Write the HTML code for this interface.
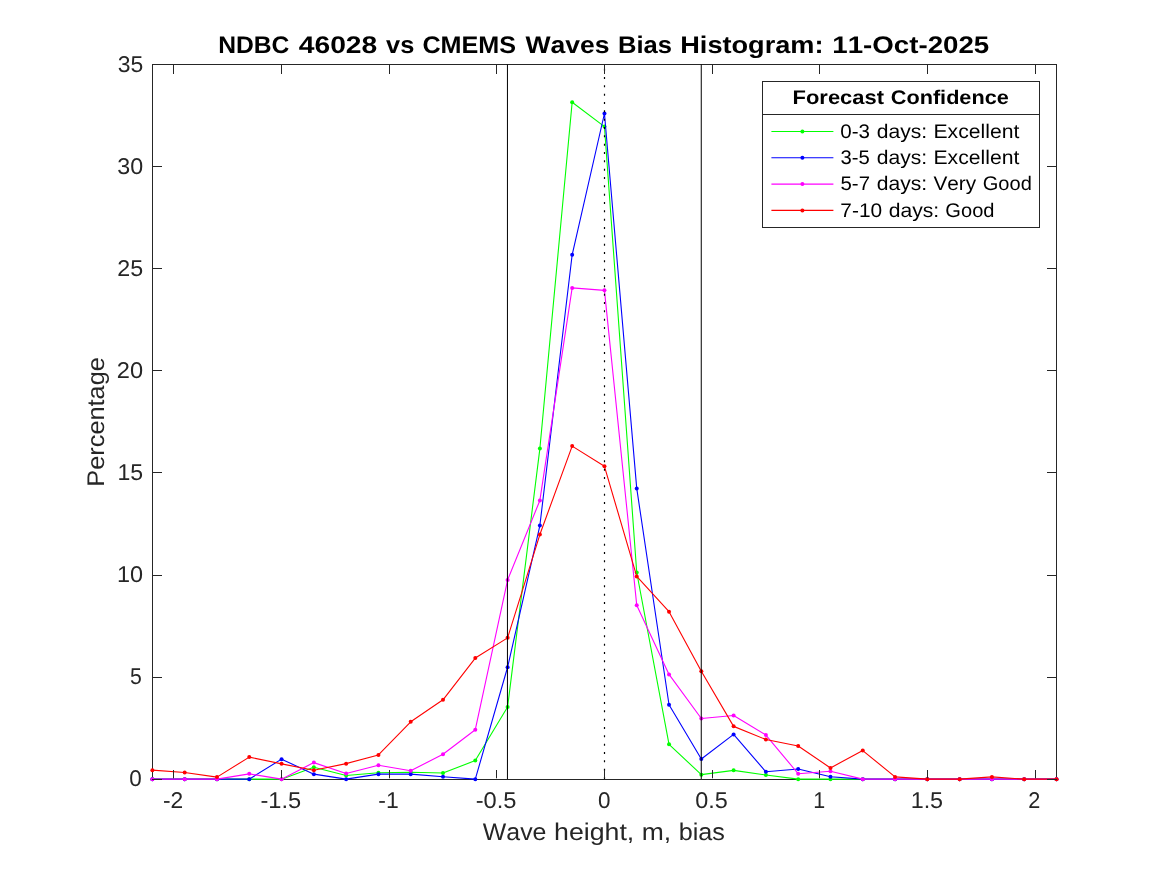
<!DOCTYPE html><html><head><meta charset="utf-8"><title>NDBC 46028 vs CMEMS Waves Bias Histogram</title><style>html,body{margin:0;padding:0;background:#fff;width:1167px;height:875px;overflow:hidden}svg{display:block;will-change:transform}text{font-family:"Liberation Sans",sans-serif;font-kerning:none;text-rendering:geometricPrecision}</style></head><body>
<svg width="1167" height="875" viewBox="0 0 1167 875">
<rect width="1167" height="875" fill="#fff"/>
<path d="M152.5 779.5H1056.5V64.5H152.5Z" fill="none" stroke="#262626" stroke-width="1"/>
<polyline points="152.40,779.15 184.69,779.15 216.98,779.15 249.27,779.15 281.56,779.15 313.85,767.31 346.14,775.47 378.43,772.82 410.71,772.21 443.00,773.02 475.29,760.57 507.58,707.07 539.87,448.57 572.16,102.27 604.45,126.57 636.74,572.51 669.03,744.34 701.32,774.66 733.61,770.37 765.90,775.07 798.19,779.15 830.47,779.15 862.76,779.15 895.05,779.15 927.34,779.15 959.63,779.15 991.92,779.15 1024.21,779.15 1056.50,779.15" fill="none" stroke="#00ff00" stroke-width="1.1" stroke-linejoin="round"/>
<g fill="#00ff00"><circle cx="152.40" cy="779.15" r="2.0"/><circle cx="184.69" cy="779.15" r="2.0"/><circle cx="216.98" cy="779.15" r="2.0"/><circle cx="249.27" cy="779.15" r="2.0"/><circle cx="281.56" cy="779.15" r="2.0"/><circle cx="313.85" cy="767.31" r="2.0"/><circle cx="346.14" cy="775.47" r="2.0"/><circle cx="378.43" cy="772.82" r="2.0"/><circle cx="410.71" cy="772.21" r="2.0"/><circle cx="443.00" cy="773.02" r="2.0"/><circle cx="475.29" cy="760.57" r="2.0"/><circle cx="507.58" cy="707.07" r="2.0"/><circle cx="539.87" cy="448.57" r="2.0"/><circle cx="572.16" cy="102.27" r="2.0"/><circle cx="604.45" cy="126.57" r="2.0"/><circle cx="636.74" cy="572.51" r="2.0"/><circle cx="669.03" cy="744.34" r="2.0"/><circle cx="701.32" cy="774.66" r="2.0"/><circle cx="733.61" cy="770.37" r="2.0"/><circle cx="765.90" cy="775.07" r="2.0"/><circle cx="798.19" cy="779.15" r="2.0"/><circle cx="830.47" cy="779.15" r="2.0"/><circle cx="862.76" cy="779.15" r="2.0"/><circle cx="895.05" cy="779.15" r="2.0"/><circle cx="927.34" cy="779.15" r="2.0"/><circle cx="959.63" cy="779.15" r="2.0"/><circle cx="991.92" cy="779.15" r="2.0"/><circle cx="1024.21" cy="779.15" r="2.0"/><circle cx="1056.50" cy="779.15" r="2.0"/></g>
<polyline points="152.40,779.15 184.69,779.15 216.98,779.15 249.27,779.15 281.56,759.14 313.85,774.15 346.14,779.15 378.43,774.15 410.71,774.15 443.00,776.70 475.29,779.15 507.58,667.26 539.87,525.55 572.16,254.80 604.45,113.50 636.74,488.39 669.03,704.72 701.32,758.94 733.61,734.43 765.90,771.80 798.19,768.94 830.47,776.70 862.76,779.15 895.05,779.15 927.34,779.15 959.63,779.15 991.92,779.15 1024.21,779.15 1056.50,779.15" fill="none" stroke="#0000ff" stroke-width="1.1" stroke-linejoin="round"/>
<g fill="#0000ff"><circle cx="152.40" cy="779.15" r="2.0"/><circle cx="184.69" cy="779.15" r="2.0"/><circle cx="216.98" cy="779.15" r="2.0"/><circle cx="249.27" cy="779.15" r="2.0"/><circle cx="281.56" cy="759.14" r="2.0"/><circle cx="313.85" cy="774.15" r="2.0"/><circle cx="346.14" cy="779.15" r="2.0"/><circle cx="378.43" cy="774.15" r="2.0"/><circle cx="410.71" cy="774.15" r="2.0"/><circle cx="443.00" cy="776.70" r="2.0"/><circle cx="475.29" cy="779.15" r="2.0"/><circle cx="507.58" cy="667.26" r="2.0"/><circle cx="539.87" cy="525.55" r="2.0"/><circle cx="572.16" cy="254.80" r="2.0"/><circle cx="604.45" cy="113.50" r="2.0"/><circle cx="636.74" cy="488.39" r="2.0"/><circle cx="669.03" cy="704.72" r="2.0"/><circle cx="701.32" cy="758.94" r="2.0"/><circle cx="733.61" cy="734.43" r="2.0"/><circle cx="765.90" cy="771.80" r="2.0"/><circle cx="798.19" cy="768.94" r="2.0"/><circle cx="830.47" cy="776.70" r="2.0"/><circle cx="862.76" cy="779.15" r="2.0"/><circle cx="895.05" cy="779.15" r="2.0"/><circle cx="927.34" cy="779.15" r="2.0"/><circle cx="959.63" cy="779.15" r="2.0"/><circle cx="991.92" cy="779.15" r="2.0"/><circle cx="1024.21" cy="779.15" r="2.0"/><circle cx="1056.50" cy="779.15" r="2.0"/></g>
<polyline points="152.40,779.15 184.69,779.15 216.98,779.15 249.27,773.84 281.56,779.15 313.85,762.61 346.14,773.43 378.43,765.27 410.71,770.78 443.00,754.24 475.29,729.74 507.58,580.07 539.87,500.44 572.16,287.88 604.45,290.33 636.74,605.18 669.03,674.40 701.32,718.51 733.61,715.55 765.90,735.05 798.19,773.74 830.47,771.19 862.76,779.15 895.05,779.15 927.34,779.15 959.63,779.15 991.92,779.15 1024.21,779.15 1056.50,779.15" fill="none" stroke="#ff00ff" stroke-width="1.1" stroke-linejoin="round"/>
<g fill="#ff00ff"><circle cx="152.40" cy="779.15" r="2.0"/><circle cx="184.69" cy="779.15" r="2.0"/><circle cx="216.98" cy="779.15" r="2.0"/><circle cx="249.27" cy="773.84" r="2.0"/><circle cx="281.56" cy="779.15" r="2.0"/><circle cx="313.85" cy="762.61" r="2.0"/><circle cx="346.14" cy="773.43" r="2.0"/><circle cx="378.43" cy="765.27" r="2.0"/><circle cx="410.71" cy="770.78" r="2.0"/><circle cx="443.00" cy="754.24" r="2.0"/><circle cx="475.29" cy="729.74" r="2.0"/><circle cx="507.58" cy="580.07" r="2.0"/><circle cx="539.87" cy="500.44" r="2.0"/><circle cx="572.16" cy="287.88" r="2.0"/><circle cx="604.45" cy="290.33" r="2.0"/><circle cx="636.74" cy="605.18" r="2.0"/><circle cx="669.03" cy="674.40" r="2.0"/><circle cx="701.32" cy="718.51" r="2.0"/><circle cx="733.61" cy="715.55" r="2.0"/><circle cx="765.90" cy="735.05" r="2.0"/><circle cx="798.19" cy="773.74" r="2.0"/><circle cx="830.47" cy="771.19" r="2.0"/><circle cx="862.76" cy="779.15" r="2.0"/><circle cx="895.05" cy="779.15" r="2.0"/><circle cx="927.34" cy="779.15" r="2.0"/><circle cx="959.63" cy="779.15" r="2.0"/><circle cx="991.92" cy="779.15" r="2.0"/><circle cx="1024.21" cy="779.15" r="2.0"/><circle cx="1056.50" cy="779.15" r="2.0"/></g>
<polyline points="152.40,770.17 184.69,772.51 216.98,777.11 249.27,757.10 281.56,763.84 313.85,770.17 346.14,763.63 378.43,754.95 410.71,721.77 443.00,699.82 475.29,658.07 507.58,637.85 539.87,534.54 572.16,446.12 604.45,466.34 636.74,576.39 669.03,611.72 701.32,671.34 733.61,726.37 765.90,739.54 798.19,746.07 830.47,767.92 862.76,750.56 895.05,776.90 927.34,779.15 959.63,779.15 991.92,776.90 1024.21,779.15 1056.50,779.15" fill="none" stroke="#ff0000" stroke-width="1.1" stroke-linejoin="round"/>
<g fill="#ff0000"><circle cx="152.40" cy="770.17" r="2.0"/><circle cx="184.69" cy="772.51" r="2.0"/><circle cx="216.98" cy="777.11" r="2.0"/><circle cx="249.27" cy="757.10" r="2.0"/><circle cx="281.56" cy="763.84" r="2.0"/><circle cx="313.85" cy="770.17" r="2.0"/><circle cx="346.14" cy="763.63" r="2.0"/><circle cx="378.43" cy="754.95" r="2.0"/><circle cx="410.71" cy="721.77" r="2.0"/><circle cx="443.00" cy="699.82" r="2.0"/><circle cx="475.29" cy="658.07" r="2.0"/><circle cx="507.58" cy="637.85" r="2.0"/><circle cx="539.87" cy="534.54" r="2.0"/><circle cx="572.16" cy="446.12" r="2.0"/><circle cx="604.45" cy="466.34" r="2.0"/><circle cx="636.74" cy="576.39" r="2.0"/><circle cx="669.03" cy="611.72" r="2.0"/><circle cx="701.32" cy="671.34" r="2.0"/><circle cx="733.61" cy="726.37" r="2.0"/><circle cx="765.90" cy="739.54" r="2.0"/><circle cx="798.19" cy="746.07" r="2.0"/><circle cx="830.47" cy="767.92" r="2.0"/><circle cx="862.76" cy="750.56" r="2.0"/><circle cx="895.05" cy="776.90" r="2.0"/><circle cx="927.34" cy="779.15" r="2.0"/><circle cx="959.63" cy="779.15" r="2.0"/><circle cx="991.92" cy="776.90" r="2.0"/><circle cx="1024.21" cy="779.15" r="2.0"/><circle cx="1056.50" cy="779.15" r="2.0"/></g>
<path d="M507.45 64.5V779M701.25 64.5V779" stroke="#000" stroke-width="1" fill="none"/>
<line x1="604.5" y1="64.5" x2="604.5" y2="779" stroke="#000" stroke-width="1.2" stroke-dasharray="2 6.333" stroke-dashoffset="4.163"/>
<path d="M173.5 64V74M173.5 770V778.3M281.5 64V74M281.5 770V778.3M389.5 64V74M389.5 770V778.3M496.5 64V74M496.5 770V778.3M604.5 64V74M604.5 770V778.3M712.5 64V74M712.5 770V778.3M819.5 64V74M819.5 770V778.3M927.5 64V74M927.5 770V778.3M1035.5 64V74M1035.5 770V778.3M152 779.5H162M1047 779.5H1057M152 677.5H162M1047 677.5H1057M152 575.5H162M1047 575.5H1057M152 472.5H162M1047 472.5H1057M152 370.5H162M1047 370.5H1057M152 268.5H162M1047 268.5H1057M152 166.5H162M1047 166.5H1057M152 64.5H162M1047 64.5H1057" fill="none" stroke="#262626" stroke-width="1"/>
<text id="t_yt0" x="129.17" y="786.00" font-size="22.78" fill="#262626" textLength="12.50" lengthAdjust="spacingAndGlyphs">0</text>
<text id="t_yt5" x="129.89" y="684.00" font-size="22.78" fill="#262626" textLength="11.80" lengthAdjust="spacingAndGlyphs">5</text>
<text id="t_yt10" x="117.03" y="582.00" font-size="22.78" fill="#262626" textLength="26.08" lengthAdjust="spacingAndGlyphs">10</text>
<text id="t_yt15" x="117.51" y="480.00" font-size="22.78" fill="#262626" textLength="25.66" lengthAdjust="spacingAndGlyphs">15</text>
<text id="t_yt20" x="116.85" y="378.00" font-size="22.78" fill="#262626" textLength="26.27" lengthAdjust="spacingAndGlyphs">20</text>
<text id="t_yt25" x="117.32" y="276.00" font-size="22.78" fill="#262626" textLength="25.86" lengthAdjust="spacingAndGlyphs">25</text>
<text id="t_yt30" x="117.21" y="174.00" font-size="22.78" fill="#262626" textLength="25.90" lengthAdjust="spacingAndGlyphs">30</text>
<text id="t_yt35" x="117.67" y="72.00" font-size="22.78" fill="#262626" textLength="25.49" lengthAdjust="spacingAndGlyphs">35</text>
<text id="t_xt-2" x="163.02" y="808.00" font-size="22.78" fill="#262626" textLength="20.25" lengthAdjust="spacingAndGlyphs">-2</text>
<text id="t_xt-1.5" x="260.44" y="808.00" font-size="22.78" fill="#262626" textLength="40.76" lengthAdjust="spacingAndGlyphs">-1.5</text>
<text id="t_xt-1" x="378.28" y="808.00" font-size="22.78" fill="#262626" textLength="20.40" lengthAdjust="spacingAndGlyphs">-1</text>
<text id="t_xt-0.5" x="475.70" y="808.00" font-size="22.78" fill="#262626" textLength="40.76" lengthAdjust="spacingAndGlyphs">-0.5</text>
<text id="t_xt0" x="597.89" y="808.00" font-size="22.78" fill="#262626" textLength="12.50" lengthAdjust="spacingAndGlyphs">0</text>
<text id="t_xt0.5" x="695.31" y="808.00" font-size="22.78" fill="#262626" textLength="32.55" lengthAdjust="spacingAndGlyphs">0.5</text>
<text id="t_xt1" x="813.33" y="808.00" font-size="22.78" fill="#262626" textLength="11.94" lengthAdjust="spacingAndGlyphs">1</text>
<text id="t_xt1.5" x="910.65" y="808.00" font-size="22.78" fill="#262626" textLength="32.47" lengthAdjust="spacingAndGlyphs">1.5</text>
<text id="t_xt2" x="1028.36" y="808.00" font-size="22.78" fill="#262626" textLength="12.05" lengthAdjust="spacingAndGlyphs">2</text>
<text y="840.00" font-size="24.05" fill="#262626"><tspan x="482.89" textLength="63.55" lengthAdjust="spacingAndGlyphs">Wave</tspan> <tspan x="554.06" textLength="80.21" lengthAdjust="spacingAndGlyphs">height,</tspan> <tspan x="641.71" textLength="29.41" lengthAdjust="spacingAndGlyphs">m,</tspan> <tspan x="678.71" textLength="46.20" lengthAdjust="spacingAndGlyphs">bias</tspan></text>
<text transform="rotate(-90)" y="103.70" font-size="24.05" fill="#262626"><tspan x="-486.68" textLength="129.49" lengthAdjust="spacingAndGlyphs">Percentage</tspan></text>
<text y="53.00" font-size="24.05" font-weight="bold" fill="#000"><tspan x="218.15" textLength="71.20" lengthAdjust="spacingAndGlyphs">NDBC</tspan> <tspan x="298.72" textLength="78.53" lengthAdjust="spacingAndGlyphs">46028</tspan> <tspan x="386.02" textLength="28.27" lengthAdjust="spacingAndGlyphs">vs</tspan> <tspan x="422.42" textLength="93.73" lengthAdjust="spacingAndGlyphs">CMEMS</tspan> <tspan x="525.48" textLength="84.16" lengthAdjust="spacingAndGlyphs">Waves</tspan> <tspan x="618.01" textLength="53.97" lengthAdjust="spacingAndGlyphs">Bias</tspan> <tspan x="680.27" textLength="143.27" lengthAdjust="spacingAndGlyphs">Histogram:</tspan> <tspan x="832.30" textLength="156.96" lengthAdjust="spacingAndGlyphs">11-Oct-2025</tspan></text>
<rect x="762.5" y="81.5" width="277" height="146" fill="#fff" stroke="#262626" stroke-width="1"/>
<line x1="762.5" y1="114.5" x2="1039.5" y2="114.5" stroke="#262626" stroke-width="1"/>
<text y="104.00" font-size="19.76" font-weight="bold" fill="#000"><tspan x="792.59" textLength="91.40" lengthAdjust="spacingAndGlyphs">Forecast</tspan> <tspan x="890.76" textLength="118.04" lengthAdjust="spacingAndGlyphs">Confidence</tspan></text>
<line x1="771.4" y1="131.50" x2="833.4" y2="131.50" stroke="#00ff00" stroke-width="1.1"/>
<circle cx="802.4" cy="131.50" r="2.0" fill="#00ff00"/>
<text y="138.00" font-size="19.76" fill="#000"><tspan x="840.34" textLength="29.70" lengthAdjust="spacingAndGlyphs">0-3</tspan> <tspan x="876.77" textLength="50.34" lengthAdjust="spacingAndGlyphs">days:</tspan> <tspan x="933.48" textLength="85.89" lengthAdjust="spacingAndGlyphs">Excellent</tspan></text>
<line x1="771.4" y1="157.80" x2="833.4" y2="157.80" stroke="#0000ff" stroke-width="1.1"/>
<circle cx="802.4" cy="157.80" r="2.0" fill="#0000ff"/>
<text y="164.00" font-size="19.76" fill="#000"><tspan x="840.56" textLength="29.28" lengthAdjust="spacingAndGlyphs">3-5</tspan> <tspan x="876.77" textLength="50.34" lengthAdjust="spacingAndGlyphs">days:</tspan> <tspan x="933.48" textLength="85.89" lengthAdjust="spacingAndGlyphs">Excellent</tspan></text>
<line x1="771.4" y1="184.10" x2="833.4" y2="184.10" stroke="#ff00ff" stroke-width="1.1"/>
<circle cx="802.4" cy="184.10" r="2.0" fill="#ff00ff"/>
<text y="190.00" font-size="19.76" fill="#000"><tspan x="840.53" textLength="29.52" lengthAdjust="spacingAndGlyphs">5-7</tspan> <tspan x="876.77" textLength="50.34" lengthAdjust="spacingAndGlyphs">days:</tspan> <tspan x="933.42" textLength="42.75" lengthAdjust="spacingAndGlyphs">Very</tspan> <tspan x="982.72" textLength="49.10" lengthAdjust="spacingAndGlyphs">Good</tspan></text>
<line x1="771.4" y1="210.40" x2="833.4" y2="210.40" stroke="#ff0000" stroke-width="1.1"/>
<circle cx="802.4" cy="210.40" r="2.0" fill="#ff0000"/>
<text y="217.00" font-size="19.76" fill="#000"><tspan x="840.37" textLength="41.81" lengthAdjust="spacingAndGlyphs">7-10</tspan> <tspan x="888.75" textLength="50.34" lengthAdjust="spacingAndGlyphs">days:</tspan> <tspan x="945.39" textLength="49.10" lengthAdjust="spacingAndGlyphs">Good</tspan></text>
</svg></body></html>
